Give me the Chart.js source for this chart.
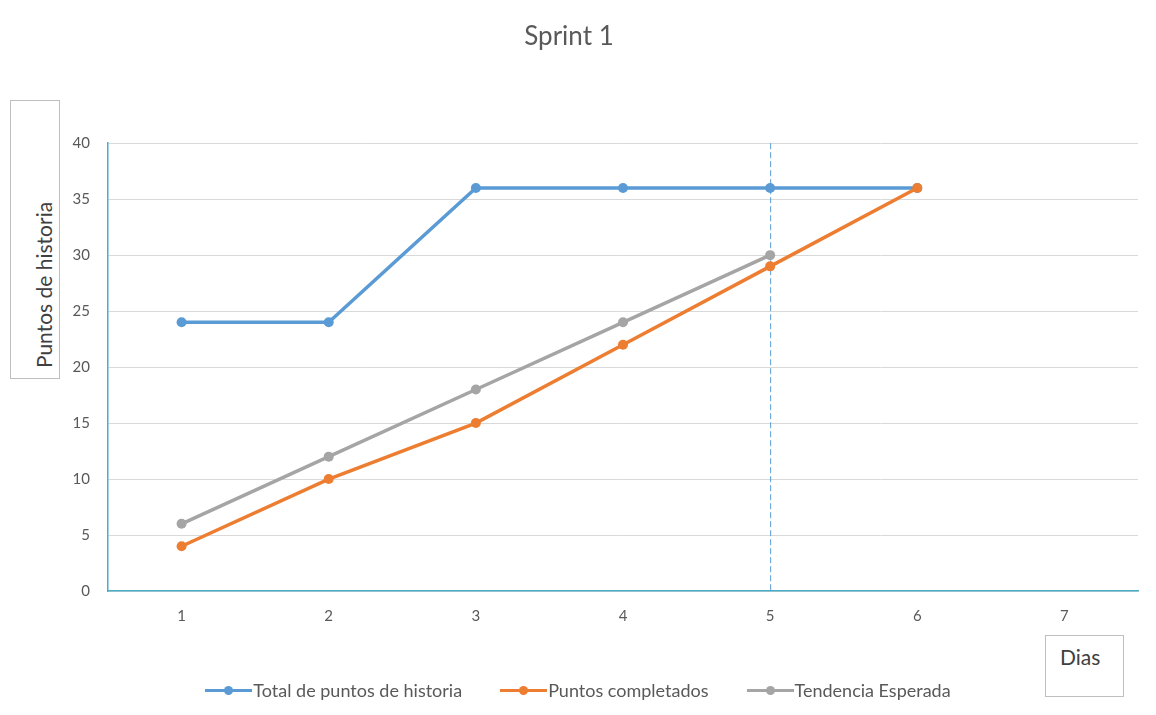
<!DOCTYPE html>
<html lang="es">
<head>
    <meta charset="UTF-8">
    <title>Sprint 1</title>
    <script src="https://cdn.jsdelivr.net/npm/chart.js"></script>
    <style>
        html, body {
            margin: 0;
            padding: 0;
            background: #ffffff;
        }
        #wrap {
            position: relative;
            width: 1156px;
            height: 715px;
            font-family: Lato, "Open Sans", sans-serif;
        }
        #burndown {
            position: absolute;
            left: 0;
            top: 0;
        }
        .axis-box {
            position: absolute;
            border: 1px solid #bfbfbf;
            background: #ffffff;
            color: #404040;
            box-sizing: border-box;
        }
        #yTitle {
            left: 10px;
            top: 100px;
            width: 50px;
            height: 279px;
        }
        #yTitle span {
            position: absolute;
            left: 32px;
            top: 184px;
            transform: translate(-50%, -50%) rotate(-90deg);
            transform-origin: 50% 50%;
            white-space: nowrap;
            font-size: 21px;
        }
        #xTitle {
            left: 1045px;
            top: 635px;
            width: 79px;
            height: 62px;
            font-size: 21px;
        }
        #xTitle span {
            position: absolute;
            left: 14px;
            top: 8px;
        }
        #legend {
            position: absolute;
            left: 0;
            width: 1156px;
            top: 678px;
            height: 24px;
            display: flex;
            justify-content: center;
            align-items: center;
            font-size: 18px;
            color: #595959;
            white-space: nowrap;
        }
        .item {
            display: flex;
            align-items: center;
        }
        .item + .item {
            margin-left: 38px;
        }
        .swatch {
            position: relative;
            width: 47px;
            height: 12px;
            margin-right: 1px;
        }
        .swatch .ln {
            position: absolute;
            left: 0;
            right: 0;
            top: 5px;
            height: 3px;
        }
        .swatch .dot {
            position: absolute;
            left: 19px;
            top: 2px;
            width: 9px;
            height: 9px;
            border-radius: 50%;
        }
    </style>
</head>
<body>
<div id="wrap">
    <canvas id="burndown" width="1156" height="715"></canvas>
    <div class="axis-box" id="yTitle"><span>Puntos de historia</span></div>
    <div class="axis-box" id="xTitle"><span>Dias</span></div>
    <div id="legend"></div>
</div>

<script>
    // dias del sprint y puntos por dia
    var days = ['1', '2', '3', '4', '5', '6', '7'];
    var totalPoints = [24, 24, 36, 36, 36, 36, null];
    var completedPoints = [4, 10, 15, 22, 29, 36, null];
    var expectedTrend = [6, 12, 18, 24, 30, null, null];
    var yTicks = [0, 5, 10, 15, 20, 25, 30, 35, 40];
    var currentDay = '5';

    var blue = '#5b9bd5';
    var orange = '#ed7d31';
    var gray = '#a5a5a5';
    var teal = '#4bacc6';

    // linea vertical punteada en el dia actual
    var todayLine = {
        id: 'todayLine',
        beforeDatasetsDraw: function(chart) {
            var x = chart.scales.x.getPixelForValue(days.indexOf(currentDay));
            var area = chart.chartArea;
            var ctx = chart.ctx;
            ctx.save();
            ctx.strokeStyle = blue;
            ctx.lineWidth = 1;
            ctx.setLineDash([6, 3]);
            ctx.beginPath();
            ctx.moveTo(x + 0.5, area.top);
            ctx.lineTo(x + 0.5, area.bottom);
            ctx.stroke();
            ctx.restore();
        }
    };

    function series(label, data, color, order) {
        return {
            label: label,
            data: data,
            borderColor: color,
            backgroundColor: color,
            borderWidth: 3.5,
            pointRadius: 5,
            pointHoverRadius: 5,
            pointBorderWidth: 0,
            tension: 0,
            order: order
        };
    }

    var ctx = document.getElementById('burndown').getContext('2d');
    var chart = new Chart(ctx, {
        type: 'line',
        data: {
            labels: days,
            datasets: [
                series('Total de puntos de historia', totalPoints, blue, 3),
                series('Puntos completados', completedPoints, orange, 1),
                series('Tendencia Esperada', expectedTrend, gray, 2)
            ]
        },
        plugins: [todayLine],
        options: {
            responsive: false,
            animation: false,
            layout: {
                padding: { left: 0, right: 18, top: 0, bottom: 0 }
            },
            scales: {
                x: {
                    offset: true,
                    grid: { display: false, drawTicks: false },
                    border: { color: teal, width: 1.5 },
                    afterFit: function(scale) {
                        scale.height = 124;
                    },
                    ticks: {
                        color: '#595959',
                        font: { family: 'Lato', size: 15 },
                        padding: 16
                    }
                },
                y: {
                    min: 0,
                    max: 40,
                    afterBuildTicks: function(scale) {
                        scale.ticks = yTicks.map(function(v) { return { value: v }; });
                    },
                    afterFit: function(scale) {
                        scale.width = 108;
                    },
                    grid: { color: '#d9d9d9', drawTicks: false },
                    border: { color: teal, width: 1.5 },
                    ticks: {
                        color: '#595959',
                        font: { family: 'Lato', size: 15 },
                        padding: 18
                    }
                }
            },
            plugins: {
                title: {
                    display: true,
                    text: 'Sprint 1',
                    color: '#595959',
                    font: { family: 'Lato', size: 26, weight: 'normal' },
                    padding: { top: 21, bottom: 91 }
                },
                legend: { display: false },
                tooltip: { enabled: false }
            }
        }
    });

    // leyenda en html a partir de los datasets
    var legend = document.getElementById('legend');
    chart.data.datasets.forEach(function(ds) {
        var item = document.createElement('div');
        item.className = 'item';
        item.innerHTML = '<span class="swatch"><span class="ln" style="background:' + ds.borderColor +
            '"></span><span class="dot" style="background:' + ds.borderColor + '"></span></span>' +
            '<span>' + ds.label + '</span>';
        legend.appendChild(item);
    });
</script>
</body>
</html>
